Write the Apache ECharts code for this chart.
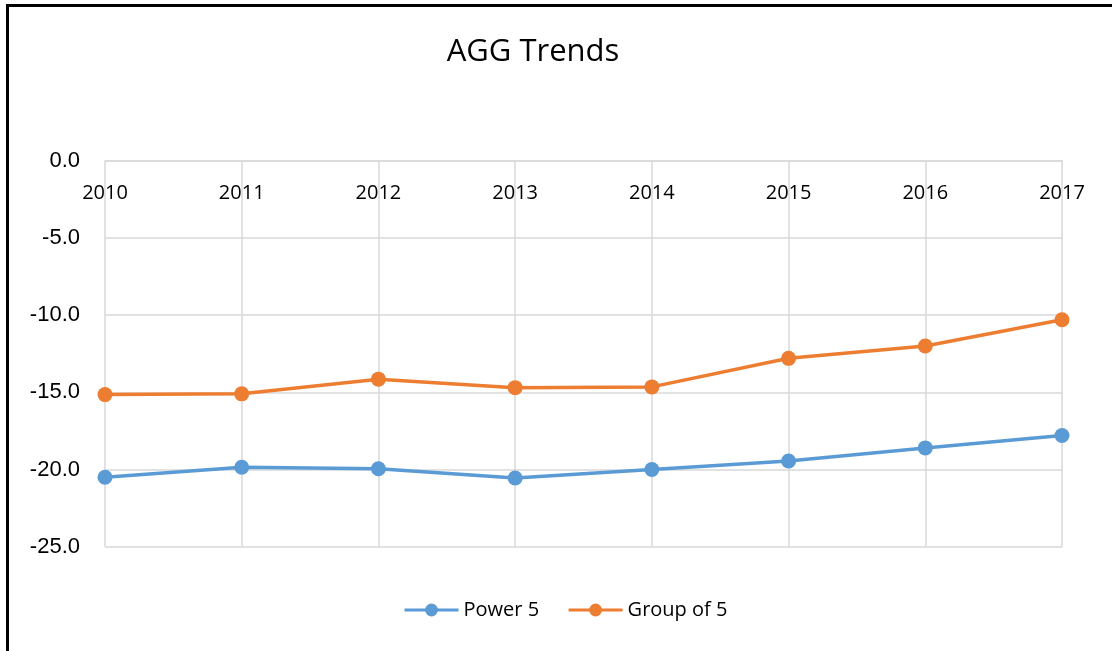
<!DOCTYPE html>
<html>
<head>
<meta charset="utf-8">
<script src="https://cdn.jsdelivr.net/npm/echarts@6/dist/echarts.min.js"></script>
<style>
html,body{margin:0;padding:0;background:#fff;}
#chart{width:1112px;height:651px;}
</style>
</head>
<body>
<div id="chart"></div>
<script>
const years = ['2010','2011','2012','2013','2014','2015','2016','2017'];
const power5 = [-20.5, -19.85, -19.95, -20.55, -20.0, -19.45, -18.6, -17.8];
const groupOf5 = [-15.15, -15.1, -14.15, -14.7, -14.65, -12.8, -12.0, -10.3];
const yTicks = { min: -25, max: 0, step: 5 };

const chart = echarts.init(document.getElementById('chart'), null, {renderer: 'canvas'});
const font = '"Open Sans", "Liberation Sans", sans-serif';
chart.setOption({
  animation: false,
  backgroundColor: '#fff',
  title: {
    text: 'AGG Trends',
    left: 528, top: 32,
    textAlign: 'center',
    textStyle: {fontFamily: font, fontSize: 31, fontWeight: 'normal', color: '#000'}
  },
  graphic: [
    {type: 'line', shape: {x1: 7.5, y1: 5, x2: 7.5, y2: 651}, style: {stroke: '#000', lineWidth: 3}},
    {type: 'line', shape: {x1: 6, y1: 5.5, x2: 1112, y2: 5.5}, style: {stroke: '#000', lineWidth: 3}}
  ],
  legend: {
    top: 595,
    left: 398,
    itemWidth: 54, itemHeight: 16, itemGap: 28,
    lineStyle: {width: 3},
    textStyle: {fontFamily: font, fontSize: 20, color: '#000'},
    data: ['Power 5', 'Group of 5']
  },
  grid: {left: 105, right: 50, top: 160.7, bottom: 104.3},
  xAxis: {
    type: 'category',
    data: years,
    position: 'top',
    boundaryGap: false,
    axisLine: {lineStyle: {color: '#d9d9d9', width: 1.5}},
    axisTick: {show: false},
    axisLabel: {inside: true, fontFamily: font, fontSize: 20, color: '#000', margin: 23},
    splitLine: {show: true, lineStyle: {color: '#d9d9d9', width: 1.5}}
  },
  yAxis: {
    type: 'value',
    min: yTicks.min, max: yTicks.max, interval: yTicks.step,
    axisLine: {show: false},
    axisTick: {show: false},
    axisLabel: {fontFamily: '"Liberation Sans", Arial, sans-serif', fontSize: 22, color: '#000', margin: 25,
      formatter: v => v.toFixed(1)},
    splitLine: {show: true, lineStyle: {color: '#d9d9d9', width: 1.5}}
  },
  series: [
    {name: 'Power 5', type: 'line', data: power5, symbol: 'circle', symbolSize: 15,
      color: '#5B9BD5', lineStyle: {width: 3.5, color: '#5B9BD5'}, itemStyle: {color: '#5B9BD5'}},
    {name: 'Group of 5', type: 'line', data: groupOf5, symbol: 'circle', symbolSize: 15,
      color: '#ED7D31', lineStyle: {width: 3.5, color: '#ED7D31'}, itemStyle: {color: '#ED7D31'}}
  ]
});
</script>
</body>
</html>
